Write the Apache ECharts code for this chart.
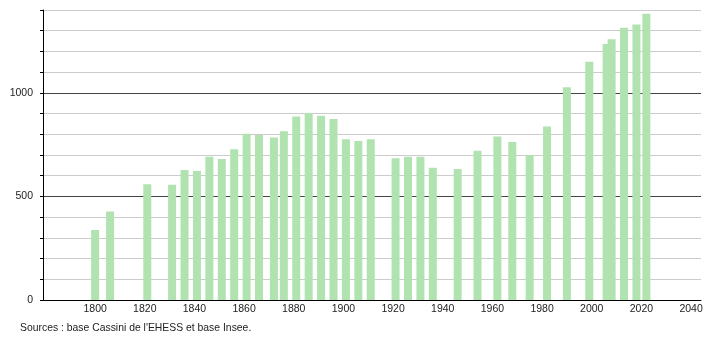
<!DOCTYPE html>
<html>
<head>
<meta charset="utf-8">
<script src="https://cdn.jsdelivr.net/npm/echarts@6/dist/echarts.min.js"></script>
<style>
html,body{margin:0;padding:0;background:#fff;}
#chart{width:710px;height:340px;}
</style>
</head>
<body>
<div id="chart"></div>
<script>
var years = [1800,1806,1821,1831,1836,1841,1846,1851,1856,1861,1866,1872,1876,1881,1886,1891,1896,1901,1906,1911,1921,1926,1931,1936,1946,1954,1962,1968,1975,1982,1990,1999,2006,2008,2013,2018,2022];
var population = [338,427,559,556,628,623,692,681,728,802,796,784,815,886,903,889,874,776,768,776,684,691,691,639,633,720,789,763,699,837,1027,1150,1236,1259,1314,1330,1382];
var xTicks = [1800,1820,1840,1860,1880,1900,1920,1940,1960,1980,2000,2020,2040];
var yLabels = [0,500,1000];
var sourceText = "Sources : base Cassini de l'EHESS et base Insee.";

var chart = echarts.init(document.getElementById('chart'));
var data = years.map(function(y,i){return [y, population[i]];});
chart.setOption({
  animation:false,
  grid:{left:43,right:9,top:10,bottom:40},
  xAxis:{
    type:'value', min:1779, max:2044,
    axisLine:{show:true,onZero:false,lineStyle:{color:'#000',width:1}},
    axisTick:{show:false},
    splitLine:{show:false},
    axisLabel:{customValues:xTicks,color:'#222',fontSize:10.5,fontFamily:'Liberation Sans, Arial, sans-serif',margin:4,
      formatter:function(v){return String(v);}}
  },
  yAxis:{
    type:'value', min:0, max:1400, interval:100,
    axisLine:{show:true,lineStyle:{color:'#000',width:1}},
    axisTick:{show:true,length:3,lineStyle:{color:'#000'}},
    splitLine:{show:true,lineStyle:{color:['#444','#ccc','#ccc','#ccc','#ccc'],width:1}},
    axisLabel:{color:'#222',fontSize:10.5,fontFamily:'Liberation Sans, Arial, sans-serif',margin:10,
      formatter:function(v){return yLabels.indexOf(v)>=0?String(v):'';}}
  },
  series:[{
    type:'bar', data:data, barWidth:8,
    itemStyle:{color:'#b0e3b0'}
  }],
  graphic:[{
    type:'text', left:20, top:323,
    style:{text:sourceText,fill:'#222',font:'10.4px "Liberation Sans", Arial, sans-serif'}
  }]
});
</script>
</body>
</html>
